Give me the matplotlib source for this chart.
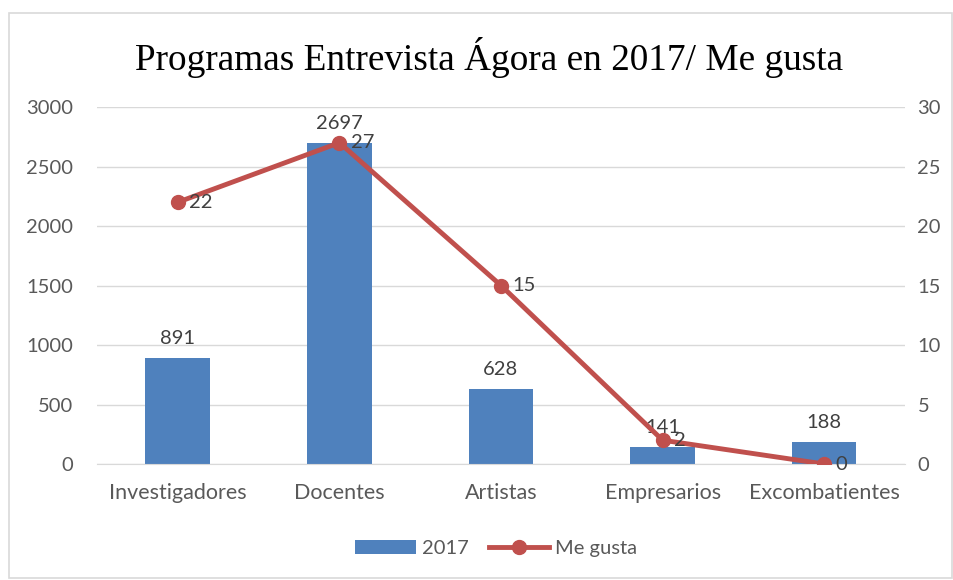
import numpy as np
import matplotlib.pyplot as plt
from matplotlib.patches import Rectangle

categorias = ["Investigadores", "Docentes", "Artistas", "Empresarios", "Excombatientes"]
valores_2017 = [891, 2697, 628, 141, 188]
me_gusta = [22, 27, 15, 2, 0]

azul = "#4F81BD"
rojo = "#C0504D"
gris_txt = "#595959"
gris_etq = "#404040"
gris_lin = "#D9D9D9"

plt.rcParams['font.family'] = ['Lato', 'DejaVu Sans']

fig = plt.figure(figsize=(9.54, 5.80), dpi=100)
ax = fig.add_axes([0.1017, 0.2, 0.8469, 0.6155])
ax2 = ax.twinx()

x = np.arange(len(categorias))
barras = ax.bar(x, valores_2017, width=0.4, color=azul, zorder=2, label="2017")
ax.set_xlim(-0.5, len(categorias) - 0.5)
ax.set_ylim(0, 3000)
ax.set_yticks(np.arange(0, 3001, 500))
ax.yaxis.grid(True, color=gris_lin, linewidth=1, zorder=0)
ax.set_axisbelow(True)
ax.set_xticks(x)
ax.set_xticklabels(categorias)

linea, = ax2.plot(x, me_gusta, color=rojo, linewidth=3.5, marker="o", markersize=10,
                  label="Me gusta", zorder=3)
ax2.set_ylim(0, 30)
ax2.set_yticks(np.arange(0, 31, 5))

for a in (ax, ax2):
    for s in a.spines.values():
        s.set_visible(False)
    a.tick_params(length=0, labelsize=14.5, colors=gris_txt)
ax.spines['bottom'].set_visible(True)
ax.spines['bottom'].set_color(gris_lin)
ax.tick_params(axis='y', pad=17)
ax2.tick_params(axis='y', pad=9)
ax.tick_params(axis='x', pad=14, labelsize=15.5)

for xi, v in zip(x, valores_2017):
    ax.annotate(str(v), (xi, v), xytext=(0, 8), textcoords="offset points",
                ha="center", va="bottom", fontsize=14.5, color=gris_etq)
for xi, v in zip(x, me_gusta):
    ax2.annotate(str(v), (xi, v), xytext=(8, 0), textcoords="offset points",
                 ha="left", va="center", fontsize=14.5, color=gris_etq)

ax.set_zorder(1)
ax2.set_zorder(2)
ax.patch.set_visible(False)

fig.text(0.513, 0.9, "Programas Entrevista Ágora en 2017/ Me gusta",
         family="Liberation Serif", fontsize=26.8, ha="center", va="center", color="black")

fig.legend([barras, linea], ["2017", "Me gusta"], loc="center", bbox_to_anchor=(0.52, 0.055),
           ncol=2, frameon=False, fontsize=14.5, labelcolor=gris_txt,
           handlelength=3, columnspacing=1.0, handletextpad=0.3)

fig.patches.append(Rectangle((0.009, 0.003), 0.989, 0.975, transform=fig.transFigure,
                             fill=False, edgecolor=gris_lin, linewidth=1.2))

fig.savefig("out.png", dpi=100)
